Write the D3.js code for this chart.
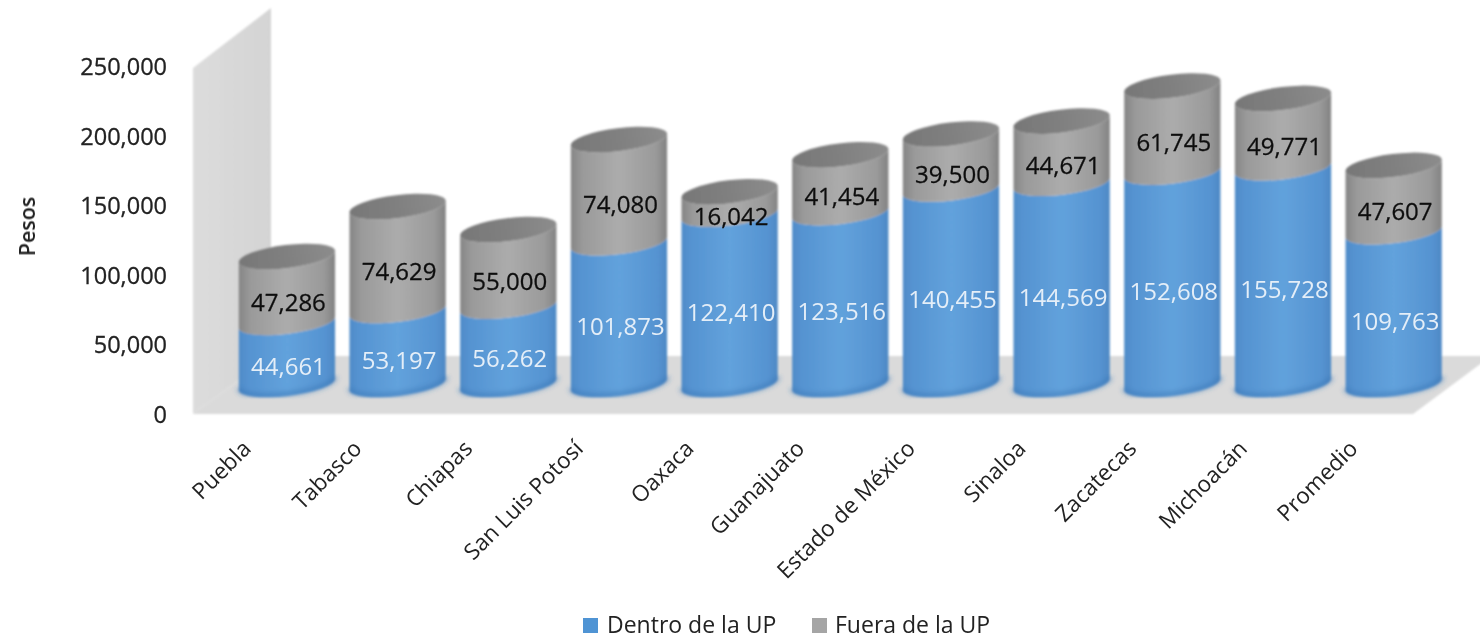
<!DOCTYPE html>
<html>
<head>
<meta charset="utf-8">
<style>
  html, body { margin: 0; background: #fff; }
  svg { display: block; }
  text { font-family: "Open Sans", sans-serif; }
</style>
<script src="https://cdn.jsdelivr.net/npm/d3@7"></script>
</head>
<body>
<svg id="chart" width="1480" height="639"></svg>
<script>
  // Data
  const categories = ["Puebla", "Tabasco", "Chiapas", "San Luis Potosí", "Oaxaca", "Guanajuato",
    "Estado de México", "Sinaloa", "Zacatecas", "Michoacán", "Promedio"];
  const dentro = [44661, 53197, 56262, 101873, 122410, 123516, 140455, 144569, 152608, 155728, 109763];
  const fuera = [47286, 74629, 55000, 74080, 16042, 41454, 39500, 44671, 61745, 49771, 47607];
  const yTicks = [0, 50000, 100000, 150000, 200000, 250000];
  const seriesNames = ["Dentro de la UP", "Fuera de la UP"];

  // Config Values
  const DEPTH_X = 78, DEPTH_Y = 58; // side wall and floor skew
  const BASE_LIFT = 29.5; // cylinders stand mid way into the floor
  const RX = 48.5, RY = 11.5, TILT = 7; // cap ellipse, degrees
  const LABEL_DROP = 13;
  const COS = Math.cos(TILT * Math.PI / 180), SIN = Math.sin(TILT * Math.PI / 180);

  const svg = d3.select("#chart");
  const x = d3.scaleBand().domain(categories).range([231.6, 1449]);
  const y = d3.scaleLinear().domain([0, 250000]).range([414, 66]);
  const fmt = d3.format(",");
  const cxOf = (c) => x(c) + x.bandwidth() / 2;
  const lift = (v) => y(v) - BASE_LIFT;

  const defs = svg.append("defs");
  const gradient = (id, stops, vertical) => {
    const g = defs.append("linearGradient").attr("id", id)
      .attr("x2", vertical ? 0 : 1).attr("y2", vertical ? 1 : 0);
    stops.forEach(([o, c]) => g.append("stop").attr("offset", o).attr("stop-color", c));
  };
  gradient("blueBody", [[0, "#4f8bc8"], [0.1, "#5593d1"], [0.5, "#62a2dc"], [0.9, "#5593d1"], [1, "#4e88c4"]]);
  gradient("grayBody", [[0, "#858585"], [0.12, "#9a9a9a"], [0.5, "#acacac"], [0.88, "#9a9a9a"], [1, "#828282"]]);
  gradient("grayCap", [[0, "#777777"], [0.5, "#808080"], [1, "#8c8c8c"]]);
  gradient("wallFill", [[0, "#dcdcdc"], [1, "#d4d4d4"]]);
  defs.append("filter").attr("id", "soft").append("feGaussianBlur").attr("stdDeviation", 0.8);
  defs.append("filter").attr("id", "softer").append("feGaussianBlur").attr("stdDeviation", 2);
  defs.append("filter").attr("id", "textSoft").append("feGaussianBlur").attr("stdDeviation", 0.4);

  // Walls
  const walls = svg.append("g").attr("filter", "url(#soft)");
  const wallLeft = 193, floorRight = 1413;
  walls.append("path").attr("fill", "url(#wallFill)")
    .attr("d", d3.line()([[wallLeft, y(250000) + 2], [wallLeft + DEPTH_X, y(250000) - DEPTH_Y], [wallLeft + DEPTH_X, y(0) - DEPTH_Y], [wallLeft, y(0)]]));
  walls.append("path").attr("fill", "#dadada")
    .attr("d", d3.line()([[wallLeft, y(0)], [wallLeft + DEPTH_X, y(0) - DEPTH_Y], [floorRight + DEPTH_X, y(0) - DEPTH_Y], [floorRight, y(0)]]));

  // Cylinders
  const endL = (cx, cy) => [cx - RX * COS, cy + RX * SIN];
  const endR = (cx, cy) => [cx + RX * COS, cy - RX * SIN];
  const frontArc = (cx, cy, reverse) => {
    const [ax, ay] = reverse ? endR(cx, cy) : endL(cx, cy);
    const [bx, by] = reverse ? endL(cx, cy) : endR(cx, cy);
    return { start: `${ax},${ay}`, arc: `A${RX},${RY} ${-TILT} 0 ${reverse ? 1 : 0} ${bx},${by}` };
  };
  const body = (cx, y0, y1) => {
    const low = frontArc(cx, y0), up = frontArc(cx, y1, true);
    return `M${low.start}${low.arc}L${up.start}${up.arc}Z`;
  };

  const bars = svg.selectAll("g.bar").data(categories).join("g").attr("class", "bar")
    .attr("filter", "url(#soft)");
  bars.append("path").attr("fill", "url(#blueBody)")
    .attr("d", (c, i) => body(cxOf(c), lift(0), lift(dentro[i])));
  bars.append("path").attr("fill", "none").attr("stroke", "#3d78b6")
    .attr("stroke-width", 5).attr("opacity", 0.55).attr("filter", "url(#softer)")
    .attr("d", (c) => { const a = frontArc(cxOf(c), lift(0) - 2); return `M${a.start}${a.arc}`; });
  bars.append("path").attr("fill", "url(#grayBody)")
    .attr("d", (c, i) => body(cxOf(c), lift(dentro[i]), lift(dentro[i] + fuera[i])));
  bars.append("ellipse").attr("fill", "url(#grayCap)").attr("rx", RX).attr("ry", RY)
    .attr("transform", (c, i) => `translate(${cxOf(c)},${lift(dentro[i] + fuera[i])}) rotate(${-TILT})`);

  // Data labels
  const labels = svg.append("g").attr("filter", "url(#textSoft)")
    .attr("text-anchor", "middle").attr("font-size", 24);
  labels.selectAll("text.dentro").data(categories).join("text").attr("class", "dentro")
    .attr("x", (c) => cxOf(c) + 1.5)
    .attr("y", (c, i) => lift(dentro[i] / 2) + LABEL_DROP)
    .attr("dy", "0.36em").attr("fill", "#e4eef8")
    .text((c, i) => fmt(dentro[i]));
  labels.selectAll("text.fuera").data(categories).join("text").attr("class", "fuera")
    .attr("x", (c) => cxOf(c) + 1.5)
    .attr("y", (c, i) => lift(dentro[i] + fuera[i] / 2) + LABEL_DROP)
    .attr("dy", "0.36em").attr("fill", "#111").attr("stroke", "#111").attr("stroke-width", 0.3)
    .text((c, i) => fmt(fuera[i]));

  // Axes
  const axisText = svg.append("g").attr("filter", "url(#textSoft)");
  const yAxis = axisText.append("g").attr("transform", "translate(167,1)")
    .call(d3.axisLeft(y).tickValues(yTicks).tickFormat(fmt).tickSize(0).tickPadding(0));
  yAxis.select(".domain").remove();
  yAxis.selectAll("text").attr("font-size", 23.5).attr("fill", "#222")
    .attr("stroke", "#222").attr("stroke-width", 0.3)
    .style("font-family", "'Open Sans', sans-serif");

  const xAxis = axisText.append("g").attr("transform", "translate(0,448)")
    .call(d3.axisBottom(x).tickSize(0).tickPadding(0));
  xAxis.select(".domain").remove();
  xAxis.selectAll("text").attr("font-size", 22.5).attr("fill", "#222")
    .style("font-family", "'Open Sans', sans-serif")
    .attr("text-anchor", "end").attr("dy", 0).attr("y", 0).attr("x", 0)
    .attr("transform", "translate(-34.5,2) rotate(-45)");

  axisText.append("text").attr("transform", "translate(35,226.5) rotate(-90)")
    .attr("text-anchor", "middle").attr("font-size", 21.5).attr("font-weight", 600)
    .attr("fill", "#222").text("Pesos");

  // Legend
  const legendX = [583, 812];
  const legendFill = ["#4f94d4", "#a5a5a5"];
  const legend = axisText.selectAll("g.key").data(seriesNames).join("g").attr("class", "key")
    .attr("transform", (d, i) => `translate(${legendX[i]},0)`);
  legend.append("rect").attr("y", 618).attr("width", 15).attr("height", 15)
    .attr("fill", (d, i) => legendFill[i]);
  legend.append("text").attr("x", (d, i) => i ? 23 : 24).attr("y", 633).attr("font-size", 23)
    .attr("fill", "#222").text((d) => d);
</script>
</body>
</html>
